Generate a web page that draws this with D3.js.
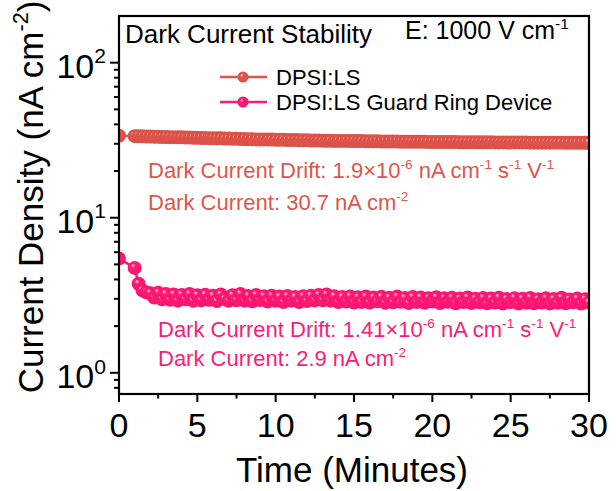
<!DOCTYPE html>
<html><head><meta charset="utf-8">
<script src="https://cdn.jsdelivr.net/npm/d3@7/dist/d3.min.js"></script>
<style>body{margin:0;background:#fff}svg{display:block}text{font-family:"Liberation Sans",Arial,sans-serif}</style>
</head><body>
<svg id="c" width="616" height="491"></svg>
<script>
// ---- data ----
const minutes = [0,
 1,1.25,1.5,1.75,2,2.25,2.5,2.75,3,
 3.25,3.5,3.75,4,4.25,4.5,4.75,5,
 5.25,5.5,5.75,6,6.25,6.5,6.75,7,
 7.25,7.5,7.75,8,8.25,8.5,8.75,9,
 9.25,9.5,9.75,10,10.25,10.5,10.75,11,
 11.25,11.5,11.75,12,12.25,12.5,12.75,13,
 13.25,13.5,13.75,14,14.25,14.5,14.75,15,
 15.25,15.5,15.75,16,16.25,16.5,16.75,17,
 17.25,17.5,17.75,18,18.25,18.5,18.75,19,
 19.25,19.5,19.75,20,20.25,20.5,20.75,21,
 21.25,21.5,21.75,22,22.25,22.5,22.75,23,
 23.25,23.5,23.75,24,24.25,24.5,24.75,25,
 25.25,25.5,25.75,26,26.25,26.5,26.75,27,
 27.25,27.5,27.75,28,28.25,28.5,28.75,29,
 29.25,29.5,29.75,30];
const dpsiLS = [33.8,
 33.6,33.5,33.5,33.4,33.4,33.3,33.3,33.2,33.2,
 33.1,33.1,33.0,33.0,32.9,32.9,32.8,32.8,
 32.7,32.7,32.6,32.6,32.5,32.5,32.4,32.4,
 32.3,32.3,32.2,32.2,32.1,32.1,32.0,32.0,
 32.0,31.9,31.9,31.8,31.8,31.8,31.7,31.7,
 31.7,31.6,31.6,31.6,31.5,31.5,31.5,31.4,
 31.4,31.4,31.3,31.3,31.3,31.3,31.2,31.2,
 31.2,31.2,31.1,31.1,31.1,31.1,31.0,31.0,
 31.0,31.0,31.0,30.9,30.9,30.9,30.9,30.9,
 30.9,30.9,30.8,30.8,30.8,30.8,30.8,30.8,
 30.8,30.8,30.7,30.7,30.7,30.7,30.7,30.7,
 30.7,30.7,30.7,30.6,30.6,30.6,30.6,30.6,
 30.6,30.6,30.6,30.6,30.5,30.5,30.5,30.5,
 30.5,30.5,30.5,30.5,30.5,30.4,30.4,30.4,
 30.4,30.4,30.4,30.4];
const dpsiLSGuard = [5.45,
 4.75,3.75,3.40,3.30,3.26,3.06,3.28,2.98,3.22,
 2.96,3.20,2.92,3.18,2.98,3.22,2.91,3.16,
 2.93,3.19,2.96,3.14,2.90,3.20,2.99,2.91,
 3.16,2.94,3.22,2.92,3.13,2.89,3.17,2.95,
 3.12,2.88,3.14,2.91,3.10,2.86,3.13,2.92,
 3.08,2.86,3.12,2.90,3.14,2.93,3.18,2.94,
 3.20,2.92,3.12,2.86,3.08,2.88,3.11,2.84,
 3.07,2.86,3.10,2.84,3.06,2.89,3.09,2.83,
 3.05,2.85,3.10,2.87,3.04,2.82,3.08,2.86,
 3.06,2.83,3.03,2.88,3.07,2.82,3.02,2.87,
 3.05,2.81,3.01,2.86,3.06,2.82,3.00,2.85,
 3.04,2.81,3.01,2.84,3.05,2.80,2.99,2.86,
 3.03,2.80,3.00,2.83,3.04,2.81,2.98,2.84,
 3.02,2.80,2.99,2.83,3.05,2.81,2.97,2.85,
 3.01,2.80,2.98,2.84];
const seriesNames = ["DPSI:LS", "DPSI:LS Guard Ring Device"];
const seriesColors = ["#e0554b", "#ff1a75"];
const xTicks = [0,5,10,15,20,25,30];
const xMinorTicks = [2.5,7.5,12.5,17.5,22.5,27.5];
const yTickExponents = [0,1,2];

// ---- layout ----
const M = {left:119, right:589, top:16, bottom:394};
const svg = d3.select("#c");
const x = d3.scaleLinear().domain([0,30]).range([M.left, M.right]);
const y = d3.scaleLog().domain([0.73, 200]).range([M.bottom, M.top]);

// gradients
const defs = svg.append("defs");
const grads = [["#fbd6d2","#e0554b","#da5047"],["#ffd0e4","#ff1a75","#f8146f"]];
grads.forEach((g,i)=>{
  const rg = defs.append("radialGradient").attr("id","g"+i)
    .attr("cx","50%").attr("cy","50%").attr("r","50%").attr("fx","35%").attr("fy","30%");
  rg.append("stop").attr("offset","0%").attr("stop-color",g[0]);
  rg.append("stop").attr("offset","32%").attr("stop-color",g[1]);
  rg.append("stop").attr("offset","100%").attr("stop-color",g[2]);
});
defs.append("clipPath").attr("id","clip").append("rect")
  .attr("x",M.left).attr("y",M.top).attr("width",M.right-M.left).attr("height",M.bottom-M.top);

// rich text helper
function rich(sel, parts, size){
  const t = sel.append("text").attr("font-size",size);
  let up = false;
  parts.forEach(p=>{
    const sup = Array.isArray(p);
    const s = sup ? p[0] : p;
    const ts = t.append("tspan").text(s);
    if (sup && !up){ ts.attr("dy", -0.42*size).attr("font-size", size*0.62); up = true; }
    else if (sup && up){ ts.attr("font-size", size*0.62); }
    else if (!sup && up){ ts.attr("dy", 0.42*size); up = false; }
  });
  return t;
}

// ---- data marks ----
const plot = svg.append("g").attr("clip-path","url(#clip)");
[dpsiLS, dpsiLSGuard].forEach((vals,i)=>{
  const pts = minutes.map((m,k)=>[m, vals[k]]);
  plot.append("path").datum(pts)
    .attr("d", d3.line().x(d=>x(d[0])).y(d=>y(d[1])))
    .attr("fill","none").attr("stroke",seriesColors[i]).attr("stroke-width",2.5);
  plot.selectAll(null).data(pts).enter().append("circle")
    .attr("cx",d=>x(d[0])).attr("cy",d=>y(d[1])).attr("r",7)
    .attr("fill","url(#g"+i+")");
});

// ---- axes ----
const ax = svg.append("g").attr("stroke","#000").attr("stroke-width",2);
xTicks.forEach(v=>ax.append("line").attr("x1",x(v)).attr("x2",x(v)).attr("y1",M.bottom).attr("y2",M.bottom+8));
xMinorTicks.forEach(v=>ax.append("line").attr("x1",x(v)).attr("x2",x(v)).attr("y1",M.bottom).attr("y2",M.bottom+4.5));
const yMajor = yTickExponents.map(e=>Math.pow(10,e));
const yMinor = [];
[-1,0,1,2].forEach(e=>{ for(let k=2;k<=9;k++){ const v=k*Math.pow(10,e); if(v>=0.73 && v<200) yMinor.push(v);} });
yMajor.forEach(v=>ax.append("line").attr("x1",M.left-9).attr("x2",M.left).attr("y1",y(v)).attr("y2",y(v)));
yMinor.forEach(v=>ax.append("line").attr("x1",M.left-5).attr("x2",M.left).attr("y1",y(v)).attr("y2",y(v)));
svg.append("rect").attr("x",M.left).attr("y",M.top).attr("width",M.right-M.left).attr("height",M.bottom-M.top)
  .attr("fill","none").attr("stroke","#000").attr("stroke-width",2.2);

// tick labels
svg.selectAll(null).data(xTicks).enter().append("text")
  .attr("x",d=>x(d)).attr("y",437).attr("text-anchor","middle").attr("font-size",34).text(d=>d);
yTickExponents.forEach(e=>{
  rich(svg, ["10",[String(e)]], 34).attr("text-anchor","end").attr("x",106).attr("y",y(Math.pow(10,e))+15);
});

// axis titles
rich(svg, ["Time (Minutes)"], 35).attr("x",352).attr("y",482).attr("text-anchor","middle");
rich(svg, ["Current Density (nA cm",["-2"],")"], 35).attr("text-anchor","middle")
  .attr("transform","translate(43,197) rotate(-90)");

// headings
rich(svg, ["Dark Current Stability"], 26).attr("x",125).attr("y",43);
rich(svg, ["E: 1000 V cm",["-1"]], 25).attr("x",405).attr("y",39);

// legend
seriesNames.forEach((n,i)=>{
  const ly = 77 + i*25;
  svg.append("line").attr("x1",220).attr("x2",267).attr("y1",ly).attr("y2",ly)
    .attr("stroke",seriesColors[i]).attr("stroke-width",2.5);
  svg.append("circle").attr("cx",243).attr("cy",ly).attr("r",5.5).attr("fill","url(#g"+i+")");
  rich(svg,[n],22).attr("x",276).attr("y",ly+8);
});

// annotations
rich(svg, ["Dark Current Drift: 1.9×10",["-6"]," nA cm",["-1"]," s",["-1"]," V",["-1"]], 22)
  .attr("x",148).attr("y",178).attr("fill",seriesColors[0]);
rich(svg, ["Dark Current: 30.7 nA cm",["-2"]], 22).attr("x",148).attr("y",210).attr("fill",seriesColors[0]);
rich(svg, ["Dark Current Drift: 1.41×10",["-6"]," nA cm",["-1"]," s",["-1"]," V",["-1"]], 22)
  .attr("x",158).attr("y",337).attr("fill",seriesColors[1]);
rich(svg, ["Dark Current: 2.9 nA cm",["-2"]], 22).attr("x",158).attr("y",366).attr("fill",seriesColors[1]);
</script>
</body></html>
